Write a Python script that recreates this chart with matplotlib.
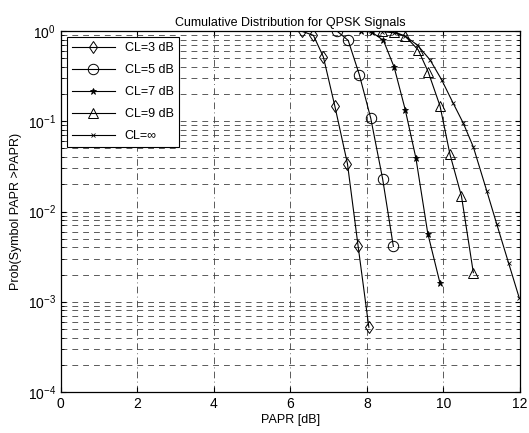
import matplotlib
matplotlib.use('Agg')
import matplotlib.pyplot as plt
import numpy as np

plt.rcParams['font.family'] = ['Liberation Sans', 'DejaVu Sans']

# CL = 3 dB
x3 = [6.29, 6.60, 6.86, 7.16, 7.49, 7.77, 8.05]
y3 = [1.0, 0.90, 0.52, 0.148, 0.034, 0.0041, 0.00052]
# CL = 5 dB
x5 = [7.22, 7.51, 7.80, 8.10, 8.41, 8.69]
y5 = [1.0, 0.79, 0.33, 0.108, 0.023, 0.0041]
# CL = 7 dB
x7 = [7.84, 8.12, 8.43, 8.71, 9.00, 9.28, 9.59, 9.91]
y7 = [1.0, 0.98, 0.79, 0.40, 0.135, 0.039, 0.0057, 0.0016]
# CL = 9 dB
x9 = [8.40, 8.70, 9.00, 9.34, 9.60, 9.91, 10.17, 10.47, 10.78]
y9 = [1.0, 0.99, 0.88, 0.62, 0.354, 0.148, 0.043, 0.0148, 0.0021]
# CL = inf
xinf = [8.10, 8.40, 8.70, 9.00, 9.32, 9.65, 9.95, 10.25, 10.52, 10.78, 11.13, 11.39, 11.70, 11.98]
yinf = [1.0, 0.99, 0.96, 0.88, 0.70, 0.48, 0.29, 0.16, 0.095, 0.052, 0.017, 0.0073, 0.0027, 0.0011]

fig = plt.figure(figsize=(5.29, 4.33), dpi=100)
ax = fig.add_axes([0.115, 0.095, 0.868, 0.833])

ax.semilogy(x3, y3, color='k', lw=0.8, marker='d', mfc='none', ms=6, mew=0.7, label='CL=3 dB')
ax.semilogy(x5, y5, color='k', lw=0.8, marker='o', mfc='none', ms=7.5, mew=0.7, label='CL=5 dB')
ax.semilogy(x7, y7, color='k', lw=0.8, marker='*', ms=4.5, mew=0.6, label='CL=7 dB')
ax.semilogy(x9, y9, color='k', lw=0.8, marker='^', mfc='none', ms=6.5, mew=0.7, label='CL=9 dB')
ax.semilogy(xinf, yinf, color='k', lw=0.8, marker='x', ms=3, mew=0.6, label='CL=\u221e')

ax.set_xlim(0, 12)
ax.set_ylim(1e-4, 1)
ax.set_xticks(np.arange(0, 13, 2))
ax.set_yticks([1e-4, 1e-3, 1e-2, 1e-1, 1])

ax.grid(which='major', axis='x', color='0.25', ls=(0, (8, 4, 1, 4)), lw=0.6)
ax.grid(which='both', axis='y', color='0.25', ls=(0, (7, 6)), lw=0.6)
ax.tick_params(which='both', direction='in', top=True, right=True, labelsize=10)

ax.set_title('Cumulative Distribution for QPSK Signals', fontsize=9, pad=4)
ax.set_xlabel('PAPR [dB]', fontsize=9, labelpad=2)
ax.set_ylabel('Prob(Symbol PAPR >PAPR)', fontsize=9, labelpad=4)

leg = ax.legend(loc='upper left', fontsize=9, frameon=True, fancybox=False,
                edgecolor='k', framealpha=1, borderaxespad=0.5, handlelength=3.4,
                labelspacing=0.8)
leg.get_frame().set_linewidth(0.8)

for s in ax.spines.values():
    s.set_linewidth(0.9)

fig.savefig('out.png', dpi=100)
